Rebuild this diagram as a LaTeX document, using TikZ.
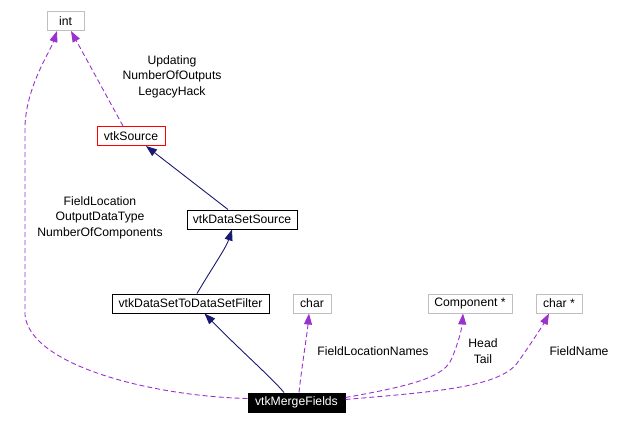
\documentclass[tikz,border=0pt]{standalone}
\usepackage{fontspec}
\setmainfont{Liberation Sans}
\usetikzlibrary{arrows.meta}
\definecolor{dep}{RGB}{154,50,205}
\definecolor{inh}{RGB}{25,25,112}
\definecolor{gb}{RGB}{191,191,191}
\tikzset{
  box/.style={draw, line width=1pt, inner sep=0pt, minimum height=19pt, font=\fontsize{12.2}{14}\selectfont},
  graybox/.style={box, draw=gb},
  blackbox/.style={box, draw=black},
  redbox/.style={box, draw=red},
  mainbox/.style={box, draw=black, fill=black, text=white},
  lbl/.style={align=center, inner sep=0pt, font=\fontsize{12.2}{15.5}\selectfont},
  depedge/.style={draw=dep, line width=0.9pt, dash pattern=on 5pt off 3pt, -{Triangle[length=11pt,width=8pt,fill=dep]}},
  inhedge/.style={draw=inh, line width=0.9pt, -{Triangle[length=11pt,width=8pt,fill=inh]}},
}
\begin{document}
\begin{tikzpicture}[x=1pt,y=-1pt]
\useasboundingbox (0,0) rectangle (633,424);
\node[graybox, minimum width=37pt] (int) at (65.5,21) {int};
\node[redbox, minimum width=68pt] (src) at (131,136) {vtkSource};
\node[blackbox, minimum width=110pt] (dss) at (242,219.5) {vtkDataSetSource};
\node[blackbox, minimum width=157pt] (flt) at (190.5,303.5) {vtkDataSetToDataSetFilter};
\node[graybox, minimum width=38pt] (chr) at (312,303.5) {char};
\node[graybox, minimum width=84pt] (cmp) at (470,303.5) {Component *};
\node[graybox, minimum width=46pt] (chp) at (559,303.5) {char *};
\node[mainbox, minimum width=97pt] (mrg) at (296.5,402.5) {vtkMergeFields};

\node[lbl] (l1) at (172,76.5) {Updating\\NumberOfOutputs\\LegacyHack};
\node[lbl] (l2) at (100,217.5) {FieldLocation\\OutputDataType\\NumberOfComponents};
\node[lbl] (l3) at (373,351) {FieldLocationNames};
\node[lbl] (l4) at (483,351) {Head\\Tail};
\node[lbl] (l5) at (579,351) {FieldName};

\draw[inhedge] ([xshift=-14pt]dss.north) -- ([xshift=15pt]src.south);
\draw[inhedge] ([xshift=6.5pt]flt.north) .. controls (212,268) and (226,248) .. ([xshift=-10pt]dss.south);
\draw[inhedge] ([xshift=-12.5pt]mrg.north) .. controls (272,378) and (240,350) .. ([xshift=14pt]flt.south);

\draw[depedge] ([xshift=-8pt]src.north) -- ([xshift=5.5pt]int.south);
\draw[depedge] ([yshift=4pt]mrg.west) .. controls (150,396) and (30,365) .. (25,315) -- (25,125) .. controls (27,85) and (50,52) .. ([xshift=-8.5pt]int.south);
\draw[depedge] ([xshift=2.5pt]mrg.north) .. controls (302,365) and (307,335) .. ([xshift=-3pt]chr.south);
\draw[depedge] ([yshift=5pt]mrg.east) .. controls (410,386) and (440,378) .. (450,362) .. controls (457,348) and (462,328) .. ([xshift=-7pt]cmp.south);
\draw[depedge] ([yshift=3pt]mrg.east) .. controls (430,392) and (500,388) .. (518,362) .. controls (530,345) and (543,325) .. ([xshift=-10pt]chp.south);
\end{tikzpicture}
\end{document}
